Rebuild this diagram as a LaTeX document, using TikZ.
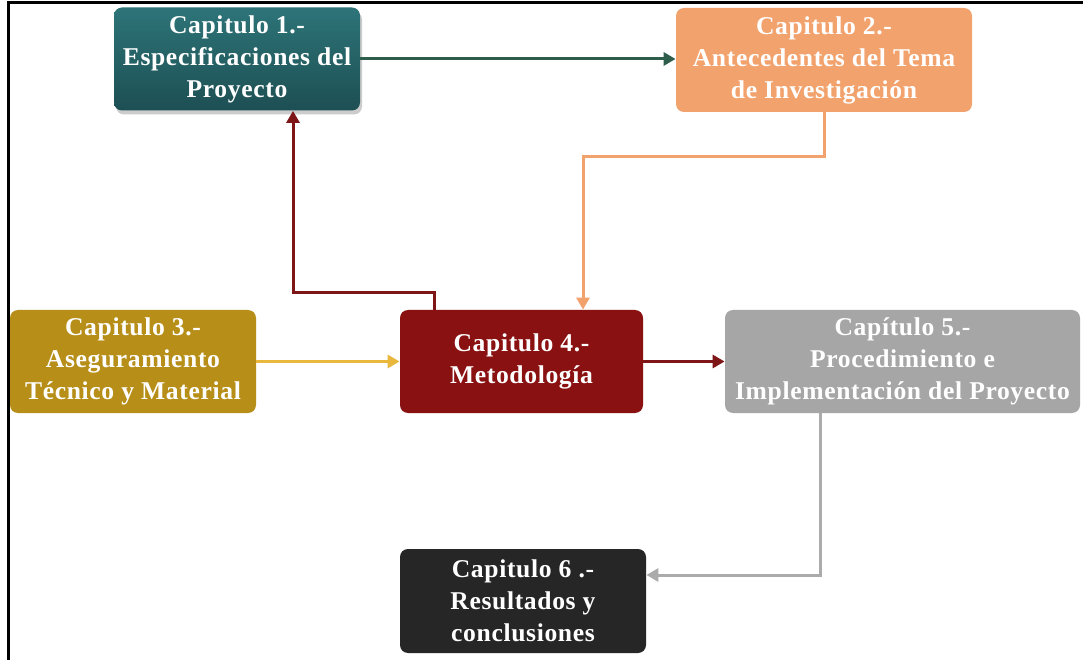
\documentclass[tikz,border=0pt]{standalone}
\usepackage{fontspec}
\setmainfont{Liberation Serif}[LetterSpace=2.5]
\usetikzlibrary{arrows.meta}
\usetikzlibrary{shadows}

\definecolor{tealtop}{HTML}{2D7478}
\definecolor{tealbot}{HTML}{1D4F53}
\definecolor{orangec}{HTML}{F2A26D}
\definecolor{goldc}{HTML}{B68E18}
\definecolor{redc}{HTML}{8A1111}
\definecolor{grayc}{HTML}{A6A6A6}
\definecolor{blackc}{HTML}{262626}
\definecolor{greenarr}{HTML}{2F5D4C}
\definecolor{redarr}{HTML}{7E1517}
\definecolor{goldarr}{HTML}{E9B73C}
\definecolor{grayarr}{HTML}{ABABAB}

\tikzset{
    capbox/.style={rounded corners=4pt, text=white, align=center,
        font=\fontsize{12.8}{16}\selectfont\bfseries, inner sep=0pt,
        minimum height=51.5pt},
    conn/.style={line width=1.5pt, -{Triangle[length=6pt,width=6.5pt]}}
}

\begin{document}
\begin{tikzpicture}[x=0.5pt,y=0.5pt]
    \useasboundingbox (0,0) rectangle (1083,660);
    \fill[white] (0,0) rectangle (1083,660);
    % frame
    \draw[line width=1.5pt] (8,0) -- (8,657) -- (1083,657);

    \node[capbox, minimum width=123pt, top color=tealtop, bottom color=tealbot,
        drop shadow={shadow xshift=1pt,shadow yshift=-2pt,opacity=.4}]
        (c1) at (237,601) {Capitulo 1.-\\Especificaciones del\\Proyecto};
    \node[capbox, fill=orangec, minimum width=148pt, minimum height=52pt]
        (c2) at (824,600) {Capitulo 2.-\\Antecedentes del Tema\\de Investigación};
    \node[capbox, fill=goldc, minimum width=123pt]
        (c3) at (133,298.5) {Capitulo 3.-\\Aseguramiento\\Técnico y Material};
    \node[capbox, fill=redc, minimum width=121.5pt]
        (c4) at (521.5,298.5) {Capitulo 4.-\\Metodología};
    \node[capbox, fill=grayc, minimum width=177.5pt]
        (c5) at (902.5,298.5) {Capítulo 5.-\\Procedimiento e\\Implementación del Proyecto};
    \node[capbox, fill=blackc, minimum width=123pt, minimum height=52pt]
        (c6) at (523,59) {Capitulo 6 .-\\Resultados y\\conclusiones};

    \coordinate (k1) at (434,367);
    \coordinate (k2) at (293,367);
    \coordinate (k3) at (583,503);
    \coordinate (k4) at (820,85);

    \draw[conn, greenarr] (c1.east) -- (c1.east -| c2.west);
    \draw[conn, redarr] (k1 |- c4.north) -- (k1) -- (k2) -- (k2 |- c1.south);
    \draw[conn, orangec] (c2.south) |- (k3) -- (k3 |- c4.north);
    \draw[conn, goldarr] (c3.east) -- (c4.west);
    \draw[conn, redarr] (c4.east) -- (c5.west);
    \draw[conn, grayarr] (k4 |- c5.south) -- (k4) -- (k4 -| c6.east);
\end{tikzpicture}
\end{document}
